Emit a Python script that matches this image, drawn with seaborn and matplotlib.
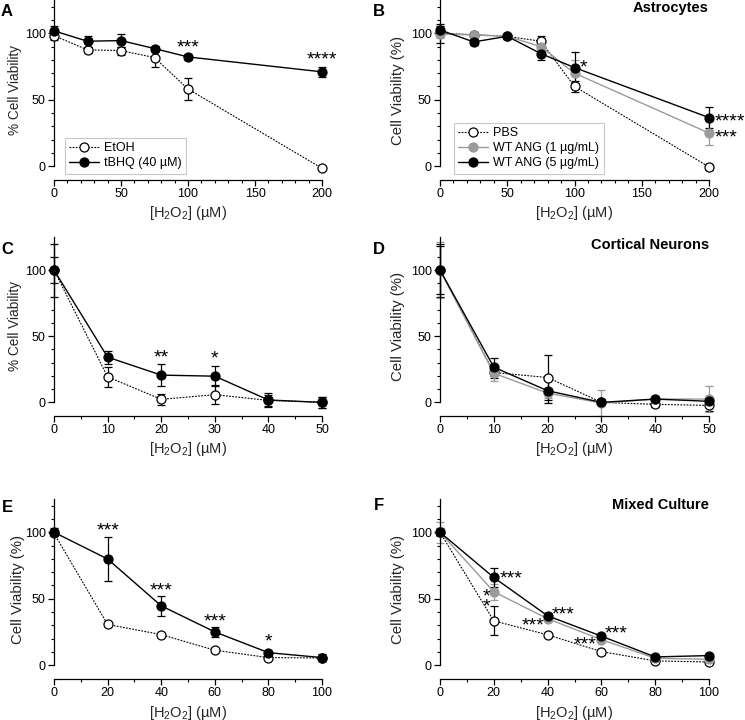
import matplotlib
matplotlib.use("Agg")
import matplotlib.pyplot as plt
from matplotlib.ticker import MultipleLocator, FixedLocator
import seaborn as sns

sns.set_theme(style="ticks")
plt.rcParams['font.family'] = ['Liberation Sans', 'DejaVu Sans']
plt.rcParams['mathtext.fontset'] = 'custom'
plt.rcParams['mathtext.rm'] = 'Liberation Sans'
plt.rcParams['mathtext.it'] = 'Liberation Sans:italic'
plt.rcParams['text.color'] = 'black'
plt.rcParams['axes.edgecolor'] = 'black'
plt.rcParams['xtick.color'] = 'black'
plt.rcParams['ytick.color'] = 'black'

GRAY = '#9a9a9a'

# ---- panel A : astrocytes, EtOH vs tBHQ
a_x = [0, 25, 50, 75, 100, 200]
a_etoh = [98.2, 87.5, 87.0, 81.7, 58.1, -1.5]
a_etoh_err = [3, 2, 3, 7, 8.3, 1]
a_tbhq = [101.8, 94.0, 94.5, 88.5, 82.2, 71.0]
a_tbhq_err = [4, 4, 5, 2, 2, 4]
a_stars = [(100, 92.5, '***', 'center'), (200, 83.5, '****', 'center')]

# ---- panel B : astrocytes, PBS vs WT ANG
b_x = [0, 25, 50, 75, 100, 200]
b_pbs = [100.0, 99.0, 97.7, 94.0, 60.0, -0.5]
b_pbs_err = [7, 2, 2, 4, 4, 2.5]
b_ang1 = [99.5, 98.7, 97.7, 90.0, 70.0, 25.0]
b_ang1_err = [3, 2, 2, 4, 10, 9]
b_ang5 = [102.5, 93.5, 97.7, 84.7, 74.2, 36.6]
b_ang5_err = [3, 2, 2, 5, 12, 8]
b_stars = [(104, 77.4, '*', 'left'), (204, 36.6, '****', 'left'), (204, 24.5, '***', 'left')]

# ---- panel C : cortical neurons, EtOH vs tBHQ
c_x = [0, 10, 20, 30, 40, 50]
c_etoh = [100.0, 19.3, 2.3, 5.8, 1.5, 0.0]
c_etoh_err = [20, 7.5, 4, 7, 4, 4]
c_tbhq = [100.0, 34.2, 20.6, 19.8, 1.8, 0.0]
c_tbhq_err = [10, 5, 8.5, 7.5, 5, 4]
c_stars = [(20, 37.2, '**', 'center'), (30, 36.0, '*', 'center')]

# ---- panel D : cortical neurons, PBS vs WT ANG
d_x = [0, 10, 20, 30, 40, 50]
d_pbs = [100.0, 22.6, 18.8, 0.0, -1.5, -2.3]
d_pbs_err = [20, 4, 17, 2, 2, 4]
d_ang1 = [100.0, 22.0, 7.0, -0.5, 2.5, 2.5]
d_ang1_err = [21, 6, 4, 10, 2, 10]
d_ang5 = [100.0, 26.6, 8.8, 0.0, 2.5, 0.8]
d_ang5_err = [18, 7, 9, 1, 1, 2]

# ---- panel E : mixed culture, EtOH vs tBHQ
e_x = [0, 20, 40, 60, 80, 100]
e_etoh = [99.2, 30.7, 23.1, 11.3, 5.8, 5.5]
e_etoh_err = [1, 1, 1, 1, 1, 1]
e_tbhq = [100.0, 79.9, 44.7, 25.1, 9.5, 5.8]
e_tbhq_err = [3, 16.7, 7.5, 3.8, 1, 2.5]
e_stars = [(20, 104.8, '***', 'center'), (40, 59.5, '***', 'center'),
           (60, 36.4, '***', 'center'), (80, 21.4, '*', 'center')]

# ---- panel F : mixed culture, PBS vs WT ANG
f_x = [0, 20, 40, 60, 80, 100]
f_pbs = [100.0, 33.4, 22.9, 10.3, 3.3, 2.5]
f_pbs_err = [2, 11, 1, 1, 1, 1]
f_ang1 = [100.0, 55.3, 35.0, 19.3, 5.3, 4.5]
f_ang1_err = [8, 6, 2, 1.5, 1, 1]
f_ang5 = [100.0, 66.0, 37.2, 21.9, 6.3, 7.3]
f_ang5_err = [3, 7, 2, 1.5, 1, 1]
f_stars = [(26.5, 68.6, '***', 'center'), (45.8, 41.5, '***', 'center'),
           (34.5, 33.4, '***', 'center'), (65.5, 27.0, '***', 'center'),
           (54.0, 19.0, '***', 'center')]
# the two stacked stars left of the 1 µg/mL point at 20 µM
f_stack = (17.3, 52.3, '*\n*')

xlabel = '[H$_2$O$_2$] (µM)'

# style of each kind of series: (line colour, face colour, linestyle, linewidth)
OPEN = ('black', 'white', (0, (1.6, 1.2)), 0.8)
FILLED = ('black', 'black', '-', 1.0)
GREY = (GRAY, GRAY, '-', 1.0)

STAR_SIZE = 14


def draw(ax, x, y, err, style, label=None):
    col, fc, ls, lw = style
    ax.errorbar(x, y, yerr=err, fmt='none', ecolor=col, elinewidth=0.9,
                capsize=3, capthick=0.9, clip_on=False, zorder=2)
    sns.lineplot(x=x, y=y, ax=ax, color=col, linestyle=ls, linewidth=lw,
                 marker='o', markersize=6.5, markerfacecolor=fc,
                 markeredgecolor=col, markeredgewidth=0.9, errorbar=None,
                 clip_on=False, zorder=3, label=label)


def setup(ax, xmax, xmajor, xminor, ylabel, ylab_x, ylab_size):
    ax.set_xlim(0, xmax)
    ax.set_ylim(-10.3, 125)
    sns.despine(ax=ax)
    ax.spines['left'].set_bounds(0, 125)
    ax.spines['bottom'].set_bounds(0, xmax)
    for s in ('left', 'bottom'):
        ax.spines[s].set_linewidth(0.9)
    ax.xaxis.set_major_locator(MultipleLocator(xmajor))
    ax.xaxis.set_minor_locator(MultipleLocator(xminor))
    ax.yaxis.set_major_locator(FixedLocator([0, 50, 100]))
    ax.yaxis.set_minor_locator(FixedLocator([10, 20, 30, 40, 60, 70, 80, 90, 110, 120]))
    ax.tick_params(which='major', length=4, width=0.9, labelsize=9, pad=2)
    ax.tick_params(which='minor', length=2.5, width=0.8)
    ax.set_xlabel(xlabel, fontsize=10.5, labelpad=3)
    ax.set_ylabel(ylabel, fontsize=ylab_size)
    ax.yaxis.set_label_coords(ylab_x, 0.5)


def stars(ax, items):
    for x, y, s, ha in items:
        ax.text(x, y - 3.5, s, ha=ha, va='center', fontsize=STAR_SIZE)


def legend(ax, x0):
    leg = ax.legend(loc='lower left', bbox_to_anchor=(x0, 0.035), fontsize=9,
                    frameon=True, fancybox=False, edgecolor='#c8c8c8',
                    framealpha=1, handlelength=2.4, handletextpad=0.4,
                    labelspacing=0.25, borderpad=0.35, borderaxespad=0)
    leg.get_frame().set_linewidth(0.8)


fig = plt.figure(figsize=(7.45, 7.2), dpi=100)
W = 745.0
H = 720.0


def make_axes(left, right, top, bottom):
    return fig.add_axes([left / W, 1 - bottom / H, (right - left) / W, (bottom - top) / H])


# left column data x from px 54, right column from px 440
axA = make_axes(54, 322, 0, 180)
axB = make_axes(440, 709, 0, 180)
axC = make_axes(54, 322, 237, 416)
axD = make_axes(440, 709, 237, 416)
axE = make_axes(54, 322, 499, 679)
axF = make_axes(440, 709, 499, 679)

# A
draw(axA, a_x, a_etoh, a_etoh_err, OPEN, 'EtOH')
draw(axA, a_x, a_tbhq, a_tbhq_err, FILLED, 'tBHQ (40 µM)')
setup(axA, 200, 50, 10, '% Cell Viability', -0.12, 9.8)
legend(axA, 0.04)
stars(axA, a_stars)

# B
draw(axB, b_x, b_pbs, b_pbs_err, OPEN, 'PBS')
draw(axB, b_x, b_ang1, b_ang1_err, GREY, 'WT ANG (1 µg/mL)')
draw(axB, b_x, b_ang5, b_ang5_err, FILLED, 'WT ANG (5 µg/mL)')
setup(axB, 200, 50, 10, 'Cell Viability (%)', -0.13, 10.8)
legend(axB, 0.052)
stars(axB, b_stars)
axB.text(1.0, 0.955, 'Astrocytes', transform=axB.transAxes, ha='right',
         va='center', fontsize=10.5, fontweight='bold')

# C
draw(axC, c_x, c_etoh, c_etoh_err, OPEN)
draw(axC, c_x, c_tbhq, c_tbhq_err, FILLED)
setup(axC, 50, 10, 5, '% Cell Viability', -0.12, 9.8)
stars(axC, c_stars)

# D
draw(axD, d_x, d_pbs, d_pbs_err, OPEN)
draw(axD, d_x, d_ang1, d_ang1_err, GREY)
draw(axD, d_x, d_ang5, d_ang5_err, FILLED)
setup(axD, 50, 10, 5, 'Cell Viability (%)', -0.13, 10.8)
axD.text(1.0, 0.955, 'Cortical Neurons', transform=axD.transAxes, ha='right',
         va='center', fontsize=10.5, fontweight='bold')

# E
draw(axE, e_x, e_etoh, e_etoh_err, OPEN)
draw(axE, e_x, e_tbhq, e_tbhq_err, FILLED)
setup(axE, 100, 20, 10, 'Cell Viability (%)', -0.108, 10.8)
stars(axE, e_stars)

# F
draw(axF, f_x, f_pbs, f_pbs_err, OPEN)
draw(axF, f_x, f_ang1, f_ang1_err, GREY)
draw(axF, f_x, f_ang5, f_ang5_err, FILLED)
setup(axF, 100, 20, 10, 'Cell Viability (%)', -0.13, 10.8)
stars(axF, f_stars)
axF.text(f_stack[0], f_stack[1] - 5, f_stack[2], ha='center', va='center',
         fontsize=STAR_SIZE, linespacing=0.45)
axF.text(1.0, 0.967, 'Mixed Culture', transform=axF.transAxes, ha='right',
         va='center', fontsize=10.5, fontweight='bold')

for ax in (axC, axD, axE, axF):
    if ax.get_legend() is not None:
        ax.get_legend().remove()

for letter, px, py in [('A', 7, 12), ('B', 379, 12), ('C', 7, 249),
                       ('D', 379, 249), ('E', 7, 507), ('F', 379, 506)]:
    fig.text(px / W, 1 - py / H, letter, ha='center', va='center',
             fontsize=12, fontweight='bold')

fig.savefig('out.png', dpi=100)
